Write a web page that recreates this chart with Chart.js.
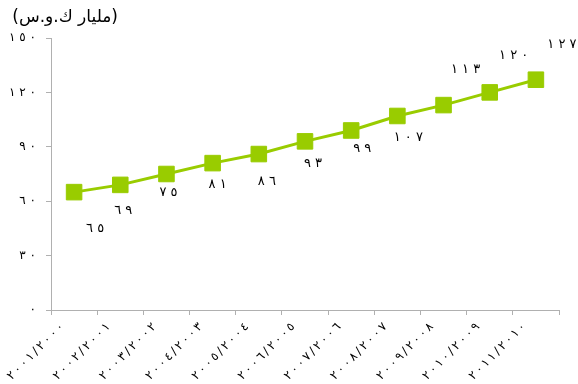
<!DOCTYPE html>
<html>
<head>
<meta charset="utf-8">
<script src="https://cdn.jsdelivr.net/npm/chart.js@4"></script>
<style>
  html, body { margin: 0; padding: 0; background: #fff; }
  #wrap { width: 578px; height: 384px; }
</style>
</head>
<body>
<div id="wrap"><canvas id="c" width="578" height="384"></canvas></div>
<script>
// data
const years = ['٢٠٠١/٢٠٠٠', '٢٠٠٢/٢٠٠١', '٢٠٠٣/٢٠٠٢', '٢٠٠٤/٢٠٠٣', '٢٠٠٥/٢٠٠٤', '٢٠٠٦/٢٠٠٥',
   '٢٠٠٧/٢٠٠٦', '٢٠٠٨/٢٠٠٧', '٢٠٠٩/٢٠٠٨', '٢٠١٠/٢٠٠٩', '٢٠١١/٢٠١٠']
const consumption = [65, 69, 75, 81, 86, 93, 99, 107, 113, 120, 127]
const unitTitle = '(مليار ك.و.س)'

const arabicDigits = (n) => String(n).replace(/[0-9]/g, d => '٠١٢٣٤٥٦٧٨٩'[d])
// letterSpacing is ignored for arabic digits, so put small gaps between them
// (LRM marks keep the left-to-right order)
const spaced = (s, gap) => [...s].join('\u200E' + gap + '\u200E')

// label offsets (dx, dy) from each point, as placed in the original
const labelShift = [[21, 36], [3, 26], [2, 19], [5, 22], [8, 28], [8, 22], [11, 18], [11, 22], [22, -35], [24, -37], [26, -35]]

const valueLabels = {
   id: 'valueLabels',
   afterDatasetsDraw(chart) {
      const ctx = chart.ctx
      const meta = chart.getDatasetMeta(0)
      ctx.save()
      ctx.font = '13px "DejaVu Sans"'
      ctx.fillStyle = '#000'
      ctx.textAlign = 'center'
      ctx.textBaseline = 'middle'
      meta.data.forEach((pt, i) => {
         let s = labelShift[i]
         let txt = spaced(arabicDigits(chart.data.datasets[0].data[i]), ' ')
         ctx.fillText(txt, pt.x + s[0], pt.y + s[1])
      })
      // unit title
      ctx.direction = 'rtl'
      ctx.textAlign = 'right'
      ctx.font = '17px "DejaVu Sans"'
      ctx.fillText(unitTitle, 118, 18)
      ctx.restore()
   }
}

const ctx = document.getElementById('c').getContext('2d')
new Chart(ctx, {
   type: 'line',
   data: {
      labels: years,
      datasets: [{
         data: consumption,
         borderColor: '#99cc00',
         backgroundColor: '#99cc00',
         borderWidth: 3,
         pointStyle: 'rect',
         pointRadius: 11,
         pointBorderWidth: 1,
         pointBorderColor: '#99cc00',
         tension: 0
      }]
   },
   options: {
      responsive: false,
      animation: false,
      layout: { padding: { top: 38, right: 19, left: 0, bottom: 0 } },
      plugins: { legend: { display: false }, tooltip: { enabled: false } },
      scales: {
         x: {
            offset: true,
            grid: { offset: true, drawOnChartArea: false, tickLength: 5, color: '#b0b0b0' },
            border: { color: '#b0b0b0' },
            ticks: {
               color: '#000',
               font: { family: 'DejaVu Sans', size: 12 },
               minRotation: 45,
               maxRotation: 45,
               autoSkip: false,
               padding: 5,
               labelOffset: -12,
               callback: function (v, i) { return spaced(years[i], '\u2009') }
            },
            afterFit: (scale) => { scale.height = 74 }
         },
         y: {
            min: 0,
            max: 150,
            grid: { drawOnChartArea: false, tickLength: 5, color: '#b0b0b0' },
            border: { color: '#b0b0b0' },
            ticks: {
               stepSize: 30,
               color: '#000',
               padding: 10,
               font: { family: 'DejaVu Sans', size: 12 },
               callback: (v) => spaced(arabicDigits(v), ' ')
            },
            afterFit: (scale) => { scale.width = 51 }
         }
      }
   },
   plugins: [valueLabels]
})
</script>
</body>
</html>
